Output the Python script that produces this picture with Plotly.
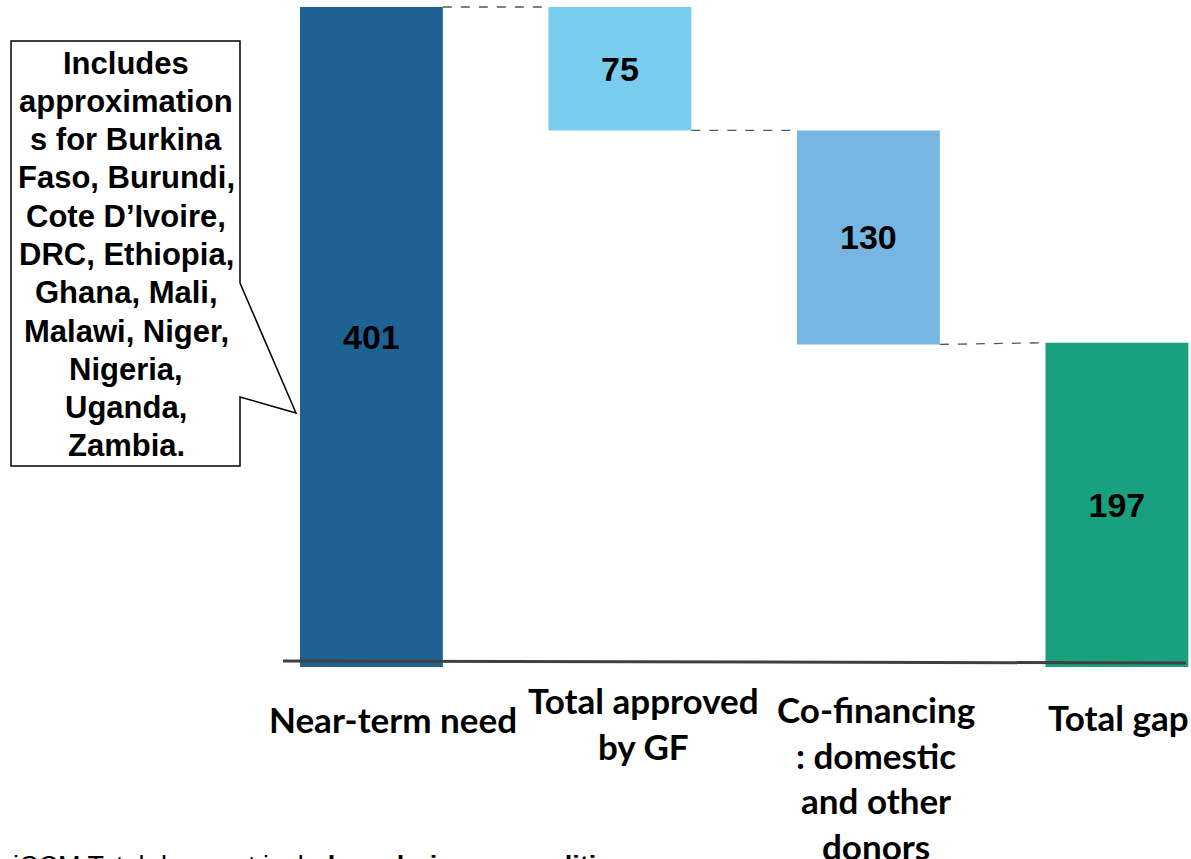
import plotly.graph_objects as go

# ---- data ----
categories = ["Near-term need", "Total approved by GF", "Co-financing: domestic and other donors", "Total gap"]
label_lines = [["Near-term need"], ["Total approved", "by GF"], ["Co-financing", ": domestic", "and other", "donors"], ["Total gap"]]
values = [401, 75, 130, 197]
bar_colors = ["#1E6193", "#78CDEF", "#77B5E3", "#18A07F"]
callout_text = ["Includes", "approximation", "s for Burkina", "Faso, Burundi,", "Cote D\u2019Ivoire,",
                "DRC, Ethiopia,", "Ghana, Mali,", "Malawi, Niger,", "Nigeria,", "Uganda,", "Zambia."]
footnote_plain = "iCCM Total does not inclu"
footnote_bold = "de malaria commodities;"

W, H = 1191, 859
def px(x):
    return x / W
def py(y):
    return 1 - y / H

# waterfall bases
bases = [0, values[0] - values[1], values[0] - values[1] - values[2], 0]
bar_w = 0.575

fig = go.Figure()
fig.add_trace(go.Bar(
    x=list(range(len(categories))), y=values, base=bases,
    marker=dict(color=bar_colors, line=dict(width=0)),
    width=bar_w,
    text=[str(v) for v in values], textposition="inside", insidetextanchor="middle",
    textfont=dict(family="Liberation Sans, Arial", size=34, color="black", weight="bold"),
    textangle=0, hoverinfo="skip", showlegend=False,
))

# dashed connectors
tops = [b + v for b, v in zip(bases, values)]
conn = [
    ((0 + bar_w / 2, tops[0]), (1 - bar_w / 2, tops[0])),
    ((1 + bar_w / 2, bases[1]), (2 - bar_w / 2, tops[2])),
    ((2 + bar_w / 2, bases[2]), (3 - bar_w / 2, tops[3])),
]
for (x0, y0), (x1, y1) in conn:
    fig.add_trace(go.Scatter(x=[x0, x1], y=[y0, y1], mode="lines",
                             line=dict(color="#555555", width=1.3, dash="dash"),
                             hoverinfo="skip", showlegend=False))

# scale: y=0 at 667px, 401 at 7px
ppu = (667 - 7) / 401
y_top = 667 / ppu
y_bot = -(H - 667) / ppu
slope = 248.5
x0c = 371.4
x_lo = -x0c / slope
x_hi = (W - x0c) / slope

annotations = []
label_y = [719, 723, 777, 717]
label_shift = [22, 24, 8, 2]
for i, lines in enumerate(label_lines):
    annotations.append(dict(
        x=i, xref="x", xshift=label_shift[i], y=py(label_y[i]), yref="paper",
        text="<br>".join(lines), showarrow=False, align="center",
        xanchor="center", yanchor="middle",
        font=dict(family="Lato, Open Sans", size=35, color="black", weight="bold"),
    ))

for j, line in enumerate(callout_text):
    annotations.append(dict(
        x=px(126), y=py(63 + j * 38.3), xref="paper", yref="paper",
        text=line, showarrow=False, align="center",
        xanchor="center", yanchor="middle",
        font=dict(family="Liberation Sans, Arial", size=31, color="black", weight="bold"),
    ))

annotations.append(dict(
    x=px(11), y=py(866), xref="paper", yref="paper",
    text=footnote_plain + "<b>" + footnote_bold + "</b>", showarrow=False, align="left",
    xanchor="left", yanchor="middle",
    font=dict(family="Liberation Sans, Arial", size=27, color="black"),
))

# callout box path (pixel geometry -> paper)
pts = [(11, 41), (240, 41), (240, 283), (296, 413), (240, 397), (240, 466), (11, 466)]
path = "M " + " L ".join(f"{px(x):.5f},{py(y):.5f}" for x, y in pts) + " Z"

shapes = [
    dict(type="path", path=path, xref="paper", yref="paper",
         line=dict(color="black", width=1.5), fillcolor="white", layer="below"),
    dict(type="line", xref="paper", yref="paper", x0=px(283), y0=py(661), x1=px(1186), y1=py(663),
         line=dict(color="#404040", width=3), layer="above"),
]

fig.update_layout(
    width=W, height=H, margin=dict(l=0, r=0, t=0, b=0),
    paper_bgcolor="white", plot_bgcolor="white",
    xaxis=dict(range=[x_lo, x_hi], visible=False, fixedrange=True),
    yaxis=dict(range=[y_bot, y_top], visible=False, fixedrange=True),
    bargap=0.425, annotations=annotations, shapes=shapes, showlegend=False,
)

fig.write_html("out.html", config={"displayModeBar": False},
               post_script="document.body.style.margin='0';document.body.style.overflow='hidden';")
